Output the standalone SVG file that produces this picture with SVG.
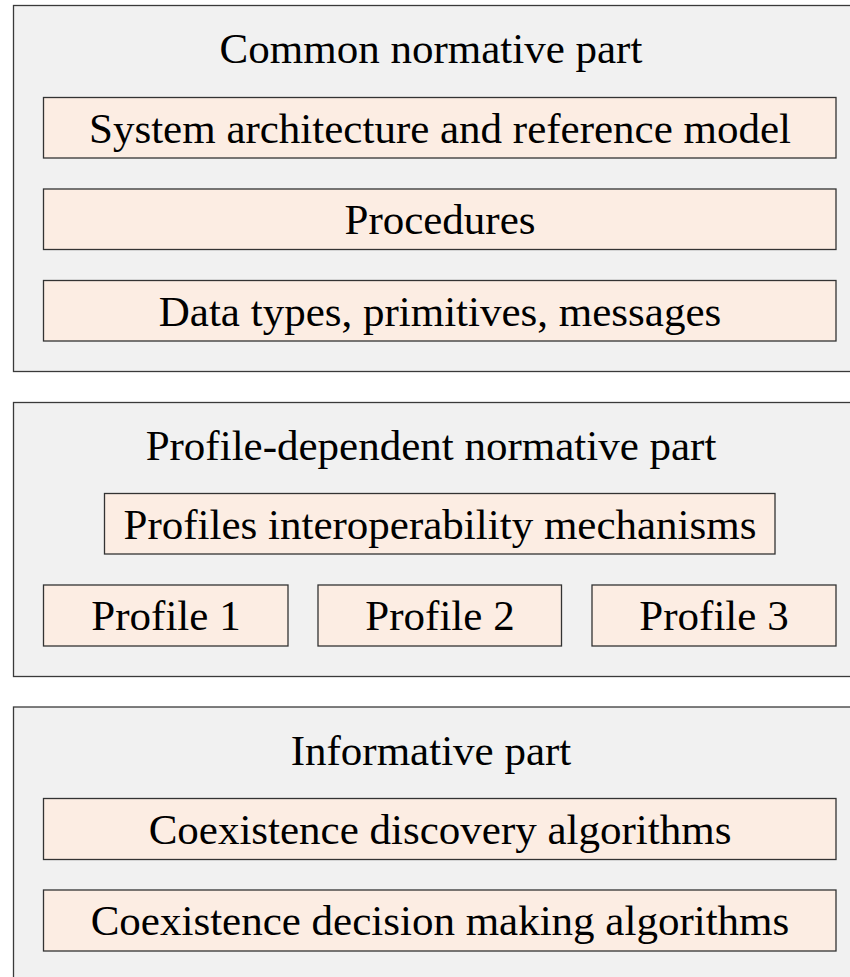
<svg xmlns="http://www.w3.org/2000/svg" width="850" height="977" viewBox="0 0 850 977">
<style>
.outer{fill:#f1f1f1;stroke:#3a3a3a;stroke-width:1.3}
.inner{fill:#fcede3;stroke:#333;stroke-width:1.3}
text{font-family:"Liberation Serif","Times New Roman",serif;font-size:43px;fill:#000;text-anchor:middle}
</style>
<rect width="850" height="977" fill="#fff"/>
<g id="common">
<rect class="outer" x="13.5" y="5.5" width="845" height="366"/>
<text x="431" y="63">Common normative part</text>
</g>
<g id="sysarch">
<rect class="inner" x="43.5" y="97.5" width="792.5" height="60.5"/>
<text x="440" y="142.5">System architecture and reference model</text>
</g>
<g id="procedures">
<rect class="inner" x="43.5" y="189" width="792.5" height="60.5"/>
<text x="440" y="234">Procedures</text>
</g>
<g id="datatypes">
<rect class="inner" x="43.5" y="280.5" width="792.5" height="60.5"/>
<text x="440" y="325.5">Data types, primitives, messages</text>
</g>
<g id="profiledep">
<rect class="outer" x="13.5" y="402.5" width="845" height="274"/>
<text x="431" y="460">Profile-dependent normative part</text>
</g>
<g id="interop">
<rect class="inner" x="104.5" y="493.5" width="670.5" height="60.5"/>
<text x="440" y="538.5">Profiles interoperability mechanisms</text>
</g>
<g id="profile1">
<rect class="inner" x="43.5" y="585" width="244.5" height="61"/>
<text x="166" y="630">Profile 1</text>
</g>
<g id="profile2">
<rect class="inner" x="318" y="585" width="243.5" height="61"/>
<text x="440" y="630">Profile 2</text>
</g>
<g id="profile3">
<rect class="inner" x="592" y="585" width="244" height="61"/>
<text x="714" y="630">Profile 3</text>
</g>
<g id="informative">
<rect class="outer" x="13.5" y="707" width="845" height="280"/>
<text x="431" y="765">Informative part</text>
</g>
<g id="discovery">
<rect class="inner" x="43.5" y="798.5" width="792.5" height="61"/>
<text x="440" y="843.5">Coexistence discovery algorithms</text>
</g>
<g id="decision">
<rect class="inner" x="43.5" y="890" width="792.5" height="61"/>
<text x="440" y="935">Coexistence decision making algorithms</text>
</g>
<g id="connectors"></g>
</svg>
